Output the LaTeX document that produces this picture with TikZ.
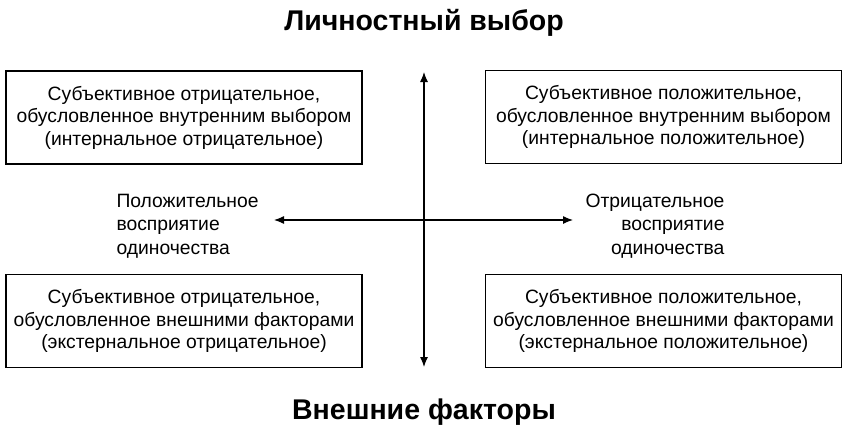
\documentclass[tikz,border=0pt]{standalone}
\usepackage{fontspec}
\setmainfont{Liberation Sans}
\usetikzlibrary{arrows.meta}
\begin{document}
\begin{tikzpicture}[x=1pt, y=-1pt,
		quadrant/.style={draw, line width=1.2pt, minimum width=356pt, minimum height=93pt, inner sep=0pt, align=center, font=\fontsize{19.3}{22.5}\selectfont},
		side/.style={font=\fontsize{19.3}{23.5}\selectfont},
		heading/.style={font=\bfseries\fontsize{28.5}{32}\selectfont},
		axis/.style={line width=1.2pt, {Latex[length=10pt,width=8pt]}-{Latex[length=10pt,width=8pt]}}
		]
		\useasboundingbox (0,0) rectangle (853,436);
		% headings
		\node[heading] (choice) at (424,23) {Личностный выбор};
		\node[heading] (factors) at (424,412) {Внешние факторы};
		% quadrants
		\node[quadrant] (intneg) at (184,117.5) {Субъективное отрицательное,\\обусловленное внутренним выбором\\(интернальное отрицательное)};
		\node[quadrant] (intpos) at (663.5,117) {Субъективное положительное,\\обусловленное внутренним выбором\\(интернальное положительное)};
		\node[quadrant] (extneg) at (184,321) {Субъективное отрицательное,\\обусловленное внешними факторами\\(экстернальное отрицательное)};
		\node[quadrant] (extpos) at (663.5,321) {Субъективное положительное,\\обусловленное внешними факторами\\(экстернальное положительное)};
		% axis labels
		\node[side, align=left, anchor=base west] (poslabel) at (113,254) {Положительное\\восприятие\\одиночества};
		\node[side, align=right, anchor=base east] (neglabel) at (728,254) {Отрицательное\\восприятие\\одиночества};
		% axes
		\coordinate (north) at (424,72);
		\coordinate (south) at (424,367);
		\coordinate (west) at (274,220);
		\coordinate (east) at (573,220);
		\draw[axis] (south) -- (north);
		\draw[axis] (west) -- (east);
\end{tikzpicture}
\end{document}
